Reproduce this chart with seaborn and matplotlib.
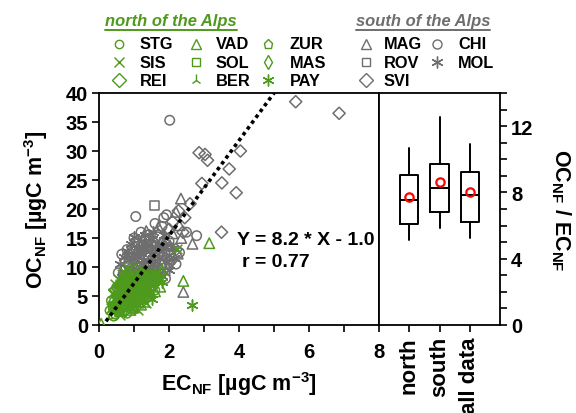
import numpy as np
import pandas as pd
import matplotlib
matplotlib.use("Agg")
import matplotlib.pyplot as plt
from matplotlib.lines import Line2D
from matplotlib.ticker import MultipleLocator
import seaborn as sns

# ---------------- data ----------------
GREEN = "#4E9A1C"
GRAY = "#6E6E6E"

# north of the Alps
STG_x = [0.31, 0.46, 0.5, 0.6, 0.7, 0.4, 0.8, 0.9, 1.0, 0.65, 1.2, 1.5, 1.1, 0.55, 1.3,
         0.35, 0.5, 0.75, 1.05, 1.4, 0.95, 0.42, 1.6, 0.8]
STG_y = [2.5, 1.9, 3.5, 4.5, 5.5, 3.0, 6.0, 4.8, 6.8, 2.8, 7.5, 6.5, 5.2, 2.2, 4.5,
         4.2, 6.5, 7.8, 9.6, 4.8, 3.6, 1.5, 6.0, 2.0]
SIS_x = [2.22, 0.5, 0.6, 0.7, 0.8, 0.9, 1.0, 1.1, 1.2, 1.3, 0.45, 0.75, 1.4, 1.6, 0.85, 0.95, 1.05, 0.55, 1.15, 0.8, 0.65,
         0.35, 0.4, 0.45, 0.55, 0.7, 0.85, 1.0, 1.25, 1.5, 1.7, 1.35, 1.1, 0.6]
SIS_y = [13.1, 6.0, 7.0, 4.0, 5.0, 6.5, 4.2, 7.2, 5.8, 6.2, 4.5, 8.0, 7.8, 8.5, 3.3, 9.0, 3.8, 5.2, 8.8, 10.0, 8.8,
         3.0, 5.5, 7.0, 8.0, 9.2, 7.5, 8.5, 9.5, 7.0, 7.8, 3.8, 2.6, 1.8]
REI_x = [0.6, 0.8, 1.0, 1.2, 0.7, 1.4, 0.9, 1.1, 0.5, 1.3, 0.45, 0.65, 1.15, 1.55, 0.75, 1.0, 1.35]
REI_y = [5.0, 3.8, 5.5, 6.6, 6.2, 5.6, 7.6, 4.6, 3.8, 8.2, 6.0, 7.4, 8.3, 7.5, 2.5, 3.3, 4.6]
VAD_x = [3.15, 2.41, 0.06, 1.8, 1.5, 1.3, 1.0, 0.7, 1.6, 0.6, 1.2, 0.9, 0.4, 0.55, 0.85, 1.15, 1.45, 1.75, 1.3]
VAD_y = [14.1, 7.6, 0.2, 9.5, 8.0, 4.0, 3.0, 3.4, 5.8, 2.4, 3.5, 2.6, 2.0, 4.2, 6.3, 6.1, 6.0, 6.6, 9.0]
SOL_x = [0.6, 0.8, 1.0, 1.2, 0.5, 0.9, 1.1, 0.7, 0.4, 0.65, 0.85, 1.05, 1.3, 0.95]
SOL_y = [3.8, 4.4, 6.0, 5.0, 2.8, 5.6, 6.4, 4.9, 3.3, 5.6, 8.4, 7.8, 6.3, 2.8]
BER_x = [0.5, 0.7, 0.9, 1.1, 1.3, 1.5, 0.8, 1.0, 1.2, 0.6, 0.35, 0.55, 0.75, 0.95, 1.15, 1.45, 0.65]
BER_y = [4.2, 4.8, 5.4, 6.0, 5.4, 6.8, 3.2, 4.5, 4.1, 3.3, 2.6, 5.7, 6.6, 7.0, 3.4, 5.1, 2.0]
ZUR_x = [0.9, 1.1, 1.3, 1.0, 1.2, 1.4, 0.8, 0.6, 0.7, 1.5, 1.25, 0.5]
ZUR_y = [6.2, 7.0, 7.4, 5.0, 8.0, 6.9, 6.8, 4.0, 7.0, 8.6, 5.9, 5.0]
MAS_x = [0.5, 0.7, 0.9, 1.1, 0.6, 0.8, 1.0, 0.4, 1.2, 1.35, 0.85, 0.65]
MAS_y = [4.8, 5.8, 4.2, 5.8, 6.3, 7.2, 7.3, 4.0, 7.6, 5.2, 8.9, 3.0]
PAY_x = [2.65, 1.79, 0.6, 0.8, 1.0, 1.2, 1.4, 1.6, 1.7, 0.5, 0.9, 1.1, 0.45, 0.75, 1.05, 1.3, 1.5, 0.7]
PAY_y = [3.4, 7.4, 5.5, 5.8, 6.3, 7.0, 8.5, 9.0, 8.0, 3.6, 3.0, 4.0, 2.8, 4.3, 5.4, 5.6, 4.4, 8.4]

# south of the Alps
MAG_x = [2.34, 2.67, 2.41, 1.7, 2.03, 2.2, 1.4, 1.6, 2.1, 1.9, 1.1, 1.5, 0.95, 2.3, 1.25, 0.8,
         0.7, 1.0, 1.2, 1.35, 1.8, 1.65, 0.6, 2.25, 1.15, 1.75, 2.35, 0.9]
MAG_y = [21.8, 14.0, 5.7, 16.9, 13.7, 19.5, 12.0, 14.5, 15.8, 14.8, 6.5, 8.8, 9.0, 17.2, 10.5, 5.5,
         9.8, 12.0, 13.8, 16.2, 10.5, 8.0, 7.3, 12.3, 8.2, 12.8, 15.0, 6.4]
ROV_x = [1.58, 0.55, 1.0, 1.3, 1.7, 1.5, 0.9, 1.4, 2.0, 0.7]
ROV_y = [20.6, 5.9, 8.0, 9.0, 12.0, 7.5, 11.5, 13.2, 10.5, 6.6]
SVI_x = [5.62, 6.86, 2.86, 3.03, 3.1, 4.04, 3.72, 2.94, 3.51, 3.92, 2.27, 2.6, 2.0, 1.8, 2.2, 1.4, 2.1, 2.45, 3.5,
         1.7, 2.4, 1.6, 1.2, 2.05]
SVI_y = [38.5, 36.5, 29.7, 29.4, 28.4, 30.0, 26.9, 24.4, 24.5, 22.8, 19.7, 20.9, 16.5, 14.0, 13.0, 10.5, 17.8, 18.5, 16.0,
         15.5, 16.0, 12.5, 9.0, 11.0]
CHI_x = [2.02, 1.05, 1.93, 2.5, 2.79, 0.8, 0.85, 1.0, 1.2, 1.6, 1.8, 0.7, 1.3, 1.9, 2.2, 1.1, 0.75, 1.85,
         0.55, 0.95, 1.4, 2.0, 1.7, 0.65, 1.5, 2.3]
CHI_y = [35.3, 18.7, 19.0, 16.0, 15.4, 13.0, 10.2, 15.0, 16.0, 17.5, 17.0, 8.5, 7.0, 8.0, 10.5, 14.2, 11.0, 18.5,
         9.0, 12.6, 15.5, 14.5, 9.5, 12.2, 6.8, 12.5]
MOL_x = [0.9, 1.0, 1.1, 1.2, 1.3, 1.0, 1.2, 1.4, 1.5, 1.6, 1.1, 1.3, 1.5, 1.7, 1.8, 1.25, 1.45, 1.35, 1.55, 1.65,
         0.95, 1.15, 1.4, 1.9, 2.0, 1.75, 0.85, 1.05, 1.6, 1.2,
         0.6, 0.7, 0.8, 0.9, 1.0, 1.1, 1.3, 1.5, 1.7, 1.9, 2.1, 2.0, 1.8, 1.4, 1.0, 0.75, 1.6, 1.2, 1.45, 1.85,
         2.15, 0.65, 1.05, 1.35, 1.55]
MOL_y = [9.5, 10.5, 11.8, 12.5, 13.2, 8.8, 10.0, 11.0, 12.2, 13.5, 9.2, 9.8, 10.5, 11.5, 12.8, 11.2, 12.8, 8.6, 9.4, 10.2,
         11.5, 13.0, 14.0, 11.0, 12.0, 9.0, 7.9, 7.6, 8.2, 8.0,
         10.5, 11.8, 12.8, 14.0, 15.2, 13.5, 15.5, 14.8, 14.0, 13.5, 13.2, 9.5, 8.4, 7.2, 6.9, 9.0, 11.0, 14.5, 9.0, 15.5,
         11.5, 8.2, 12.2, 13.8, 16.0]

# regression
fit_slope = 8.2
fit_intercept = -1.0
fit_r = 0.77

# box statistics of OC/EC ratio
box_labels = ["north", "south", "all data"]
box_whislo = [5.15, 5.83, 5.25]
box_q1 = [6.09, 6.79, 6.23]
box_med = [7.57, 8.24, 7.82]
box_q3 = [9.06, 9.74, 9.22]
box_whishi = [10.7, 12.54, 10.94]
box_mean = [7.7, 8.6, 8.0]

north_sites = ["STG", "SIS", "REI", "VAD", "SOL", "BER", "ZUR", "MAS", "PAY"]
south_sites = ["MAG", "ROV", "SVI", "CHI", "MOL"]

# ---------------- style ----------------
sns.set_style("ticks")
plt.rcParams["font.family"] = ["Liberation Sans", "DejaVu Sans"]
plt.rcParams["font.weight"] = "bold"
for k in ["text.color", "axes.labelcolor", "xtick.color", "ytick.color", "axes.edgecolor"]:
    plt.rcParams[k] = "black"
plt.rcParams["mathtext.fontset"] = "custom"
plt.rcParams["mathtext.rm"] = "Liberation Sans:bold"
plt.rcParams["mathtext.bf"] = "Liberation Sans:bold"
plt.rcParams["mathtext.it"] = "Liberation Sans:bold:italic"
plt.rcParams["mathtext.default"] = "bf"

data = {
    "STG": (STG_x, STG_y), "SIS": (SIS_x, SIS_y), "REI": (REI_x, REI_y),
    "VAD": (VAD_x, VAD_y), "SOL": (SOL_x, SOL_y), "BER": (BER_x, BER_y),
    "ZUR": (ZUR_x, ZUR_y), "MAS": (MAS_x, MAS_y), "PAY": (PAY_x, PAY_y),
    "MAG": (MAG_x, MAG_y), "ROV": (ROV_x, ROV_y), "SVI": (SVI_x, SVI_y),
    "CHI": (CHI_x, CHI_y), "MOL": (MOL_x, MOL_y),
}
site_marker = {
    "STG": ("o", 6.5), "SIS": ("x", 7), "REI": ("D", 6.2), "VAD": ("^", 7.5), "SOL": ("s", 6.2),
    "BER": ("2", 8), "ZUR": ("p", 6.8), "MAS": ("d", 7), "PAY": ((6, 2, 0), 8),
    "MAG": ("^", 7.5), "ROV": ("s", 6.2), "SVI": ("D", 6.2), "CHI": ("o", 6.8), "MOL": ((6, 2, 0), 8),
}
legend_ms = {
    "STG": 6, "SIS": 7, "REI": 7, "VAD": 7.5, "SOL": 6, "BER": 8, "ZUR": 6.5, "MAS": 7.5, "PAY": 8.5,
    "MAG": 7, "ROV": 6, "SVI": 7, "CHI": 6.5, "MOL": 8.5,
}
LINE_MARKERS = {"x", "2"}

W, H = 576, 414
fig = plt.figure(figsize=(W / 100, H / 100), dpi=100)
ax1 = fig.add_axes([99 / W, 88 / H, 280 / W, 232 / H])
ax2 = fig.add_axes([379 / W, 88 / H, 121 / W, 232 / H])


def is_line(m):
    return m in LINE_MARKERS or isinstance(m, tuple)


def draw_site(ax, site, color):
    xs, ys = data[site]
    m, ms = site_marker[site]
    df = pd.DataFrame({"x": xs, "y": ys})
    if is_line(m):
        sns.scatterplot(data=df, x="x", y="y", ax=ax, marker=m, s=ms ** 2,
                        color=color, linewidth=1.1, legend=False, zorder=3)
    else:
        sns.scatterplot(data=df, x="x", y="y", ax=ax, marker=m, s=ms ** 2,
                        facecolors="none", edgecolor=color, linewidth=1.1, legend=False, zorder=3)


for site in south_sites:
    draw_site(ax1, site, GRAY)
for site in north_sites:
    draw_site(ax1, site, GREEN)

# regression line
ax1.set_xlim(0, 8)
ax1.set_ylim(0, 40)
x_line = np.array([0.2, (40 - fit_intercept) / fit_slope])
ax1.plot(x_line, fit_slope * x_line + fit_intercept, color="black", lw=2.6,
         dashes=(1.0, 1.0), zorder=5)
ax1.text(3.94, 14.8, f"Y = {fit_slope} * X - {abs(fit_intercept):.1f}", fontsize=14,
         fontweight="bold", va="center", ha="left")
ax1.text(4.1, 11.0, f"r = {fit_r}", fontsize=14, fontweight="bold", va="center", ha="left")

ax1.xaxis.set_major_locator(MultipleLocator(2))
ax1.xaxis.set_minor_locator(MultipleLocator(1))
ax1.yaxis.set_major_locator(MultipleLocator(5))
ax1.tick_params(axis="both", which="both", direction="out", length=5, width=1.2,
                labelsize=14.5, pad=3)
ax1.tick_params(axis="x", which="both", pad=7)
for sp in ax1.spines.values():
    sp.set_linewidth(1.3)
    sp.set_visible(True)
ax1.set_xlabel(r"EC$_{NF}$ [µgC m$^{-3}$]", fontsize=15.5, fontweight="bold", labelpad=6)
ax1.set_ylabel(r"OC$_{NF}$ [µgC m$^{-3}$]", fontsize=15.5, fontweight="bold", labelpad=11)
for lab in ax1.get_xticklabels() + ax1.get_yticklabels():
    lab.set_fontweight("bold")

# box panel
stats = []
for i, lab in enumerate(box_labels):
    stats.append(dict(label=lab, whislo=box_whislo[i], q1=box_q1[i], med=box_med[i],
                      q3=box_q3[i], whishi=box_whishi[i], mean=box_mean[i], fliers=[]))
pos = np.arange(1, len(box_labels) + 1)
ax2.bxp(stats, positions=pos, widths=0.6, showcaps=False, showmeans=True, showfliers=False,
        boxprops=dict(color="black", lw=1.4), whiskerprops=dict(color="black", lw=1.4),
        medianprops=dict(color="black", lw=1.4),
        meanprops=dict(marker="o", markerfacecolor="none", markeredgecolor="red",
                       markersize=6, markeredgewidth=1.6))
ax2.set_xlim(0, 4)
ax2.set_ylim(0, 14)
ax2.yaxis.tick_right()
ax2.yaxis.set_label_position("right")
ax2.yaxis.set_major_locator(MultipleLocator(4))
ax2.yaxis.set_minor_locator(MultipleLocator(1))
ax2.set_xticks(pos)
ax2.set_xticklabels(box_labels, rotation=90, fontsize=16, fontweight="bold")
ax2.tick_params(axis="both", which="both", direction="out", length=5, width=1.2, pad=3)
ax2.tick_params(axis="y", labelsize=14.5)
ax2.tick_params(axis="y", which="both", left=False, right=True)
for sp in ax2.spines.values():
    sp.set_linewidth(1.3)
    sp.set_visible(True)
ax2.set_ylabel(r"OC$_{NF}$ / EC$_{NF}$", fontsize=15.5, fontweight="bold", rotation=270,
               labelpad=28)
for lab in ax2.get_yticklabels():
    lab.set_fontweight("bold")

# ---------------- legend (manual layout) ----------------
def fx(px):
    return px / W


def fy(py):
    return 1 - py / H


def legend_entry(site, color, mx, tx, ry):
    m, _ = site_marker[site]
    ms = legend_ms[site]
    if is_line(m):
        ln = Line2D([fx(mx)], [fy(ry)], transform=fig.transFigure, marker=m, ms=ms,
                    color=color, mew=1.0, ls="none")
    else:
        ln = Line2D([fx(mx)], [fy(ry)], transform=fig.transFigure, marker=m, ms=ms,
                    mfc="none", mec=color, mew=1.0, ls="none")
    fig.add_artist(ln)
    fig.text(fx(tx), fy(ry), site, fontsize=11.8, fontweight="bold", va="center", ha="left")


north_mx = [119, 196, 268]
north_tx = [140, 216, 290]
rows = [44.5, 63, 81]
for i, site in enumerate(north_sites):
    c, r = divmod(i, 3)
    legend_entry(site, GREEN, north_mx[c], north_tx[c], rows[r])
south_mx = [366, 437]
south_tx = [384, 458]
for i, site in enumerate(south_sites):
    c, r = divmod(i, 3)
    legend_entry(site, GRAY, south_mx[c], south_tx[c], rows[r])

t1 = fig.text(fx(105), fy(21.5), "north of the Alps", color=GREEN, fontsize=11.9,
              fontweight="bold", fontstyle="italic", va="center", ha="left")
t2 = fig.text(fx(356), fy(21.5), "south of the Alps", color=GRAY, fontsize=11.9,
              fontweight="bold", fontstyle="italic", va="center", ha="left")
fig.canvas.draw()
rend = fig.canvas.get_renderer()
for t, col in [(t1, GREEN), (t2, GRAY)]:
    bb = t.get_window_extent(rend)
    fig.add_artist(Line2D([bb.x0 / W, bb.x1 / W], [fy(30.5), fy(30.5)],
                          transform=fig.transFigure, color=col, lw=1.4))

fig.savefig("out.png", dpi=100)
